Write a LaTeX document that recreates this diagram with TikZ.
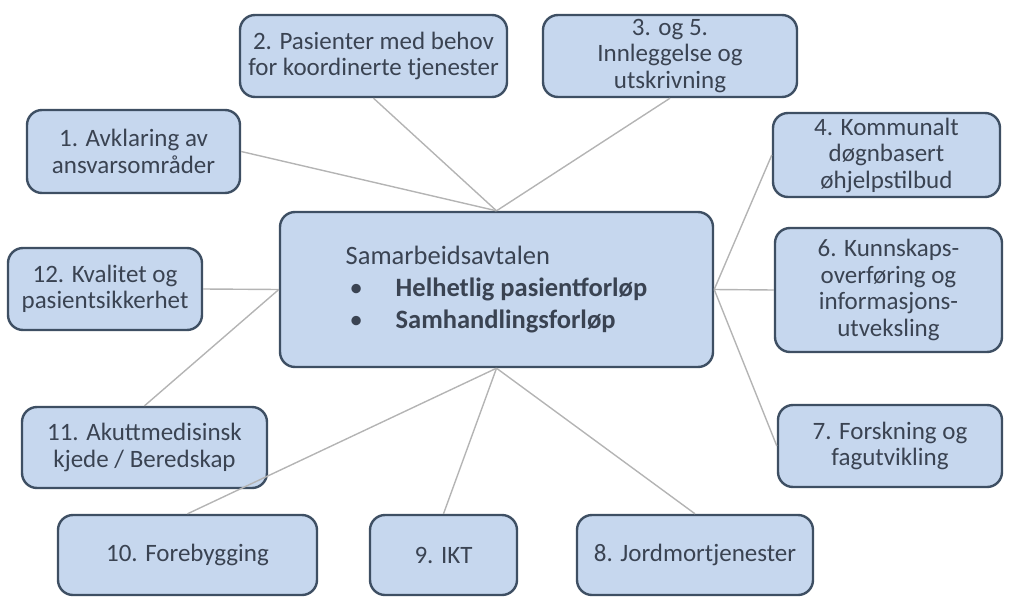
\documentclass[tikz,border=0pt]{standalone}
\usepackage{fontspec}
\setmainfont{Carlito}
\definecolor{boxfill}{HTML}{C6D7EE}
\definecolor{boxline}{HTML}{3E4F63}
\definecolor{linkgray}{HTML}{B4B4B4}
\definecolor{textgray}{HTML}{3A4352}
\begin{document}
\begin{tikzpicture}
   [x=1pt,y=-1pt,
   topic/.style={draw=boxline,fill=boxfill,line width=2.4pt,rounded corners=15pt,
     inner sep=0pt,align=center,text=textgray,font=\fontsize{25}{26.5}\selectfont},
   link/.style={linkgray,line width=1.4pt}]
    \useasboundingbox (0,0) rectangle (1009,597);
    \coordinate (mid) at (496.5,289.5);
    \node[topic,minimum width=433pt,minimum height=155pt,align=left,
      font=\fontsize{26.5}{32}\selectfont] (avtale) at (mid)
      {Samarbeidsavtalen\\
       \hspace*{4pt}\makebox[46pt][l]{\textbullet}\textbf{Helhetlig pasientforløp}\\
       \hspace*{4pt}\makebox[46pt][l]{\textbullet}\textbf{Samhandlingsforløp}};
    \node[topic,minimum width=213pt,minimum height=83pt] (t1) at (133.5,151.5)
      {1. Avklaring av\\ansvarsområder};
    \node[topic,minimum width=267pt,minimum height=82pt] (t2) at (373.5,56)
      {2. Pasienter med behov\\for koordinerte tjenester};
    \node[topic,minimum width=254pt,minimum height=82pt] (t3) at (670,56)
      {3. og 5.\\Innleggelse og\\utskrivning};
    \node[topic,minimum width=227pt,minimum height=84pt] (t4) at (886.5,155)
      {4. Kommunalt\\døgnbasert\\øhjelpstilbud};
    \node[topic,minimum width=227pt,minimum height=124pt] (t6) at (888.5,290)
      {6. Kunnskaps-\\overføring og\\informasjons-\\utveksling};
    \node[topic,minimum width=224pt,minimum height=82pt] (t7) at (890,446)
      {7. Forskning og\\fagutvikling};
    \node[topic,minimum width=236pt,minimum height=80pt] (t8) at (695,555)
      {8. Jordmortjenester};
    \node[topic,minimum width=147pt,minimum height=80pt] (t9) at (443.5,555)
      {9. IKT};
    \node[topic,minimum width=259pt,minimum height=80pt] (t10) at (187.5,555)
      {10. Forebygging};
    \node[topic,minimum width=245pt,minimum height=81pt] (t11) at (144.5,447.5)
      {11. Akuttmedisinsk\\kjede / Beredskap};
    \node[topic,minimum width=194pt,minimum height=82pt] (t12) at (105,289)
      {12. Kvalitet og\\pasientsikkerhet};
    % connectors
    \draw[link] (t1.east) -- (avtale.north);
    \draw[link] (t2.south) -- (avtale.north);
    \draw[link] (t3.south) -- (avtale.north);
    \draw[link] (t4.west) -- (avtale.east);
    \draw[link] (t6.west) -- (avtale.east);
    \draw[link] (t7.west) -- (avtale.east);
    \draw[link] (t8.north) -- (avtale.south);
    \draw[link] (t9.north) -- (avtale.south);
    \draw[link] (t10.north) -- (avtale.south);
    \draw[link] (t11.north) -- (avtale.west);
    \draw[link] (t12.east) -- (avtale.west);
\end{tikzpicture}
\end{document}
